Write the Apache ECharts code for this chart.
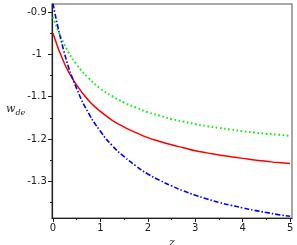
<!DOCTYPE html>
<html><head><meta charset="utf-8">
<script src="https://cdn.jsdelivr.net/npm/echarts@6/dist/echarts.min.js"></script>
<style>html,body{margin:0;padding:0;background:#fff}#c{width:297px;height:245px}</style>
</head><body><div id="c"></div>
<script>
const zValues = [0,0.25,0.5,0.75,1,1.25,1.5,1.75,2,2.25,2.5,2.75,3,3.25,3.5,3.75,4,4.25,4.5,4.75,5];
const redW   = [-0.950,-1.024,-1.073,-1.109,-1.135,-1.156,-1.172,-1.185,-1.197,-1.206,-1.214,-1.221,-1.228,-1.233,-1.238,-1.242,-1.246,-1.250,-1.253,-1.256,-1.258];
const greenW = [-0.912,-0.979,-1.024,-1.056,-1.081,-1.099,-1.114,-1.126,-1.137,-1.145,-1.153,-1.159,-1.165,-1.170,-1.174,-1.178,-1.182,-1.185,-1.188,-1.190,-1.193];
const blueW  = [-0.880,-1.001,-1.081,-1.139,-1.182,-1.216,-1.242,-1.264,-1.283,-1.298,-1.311,-1.323,-1.333,-1.342,-1.350,-1.357,-1.363,-1.369,-1.374,-1.379,-1.383];
const xTicks = [0,1,2,3,4,5];
const xMinorTicks = [0.5,1.5,2.5,3.5,4.5];
const yTicks = [-0.9,-1,-1.1,-1.2,-1.3];
const yMinorTicks = [-0.95,-1.05,-1.15,-1.25,-1.35];

const pairs = arr => zValues.map((z,i)=>[z,arr[i]]);
const axisColor = '#222';
const font = 'DejaVu Sans';
const xr = {min:-0.021, max:5.04};
const yr = {min:-1.387, max:-0.881};

const chart = echarts.init(document.getElementById('c'), null, {renderer:'canvas'});
chart.setOption({
  animation:false,
  backgroundColor:'#fff',
  grid:{left:52, right:5, top:4, bottom:27, containLabel:false, outerBoundsMode:'none',
        show:true, borderColor:'#8a8a8a', borderWidth:1.5},
  xAxis:[{
    type:'value', min:xr.min, max:xr.max, position:'bottom',
    axisLine:{show:true, onZero:false, lineStyle:{color:axisColor, width:1.2}},
    axisTick:{show:true, length:4, customValues:xTicks, lineStyle:{color:axisColor}},
    axisLabel:{customValues:xTicks, color:axisColor, fontFamily:font, fontSize:10, margin:5},
    splitLine:{show:false},
    name:'z', nameLocation:'middle', nameGap:8,
    nameTextStyle:{fontFamily:'DejaVu Serif', fontStyle:'italic', fontSize:11, color:axisColor}
  },{
    type:'value', min:xr.min, max:xr.max, position:'bottom', offset:0,
    axisLine:{show:false, onZero:false},
    axisTick:{show:true, length:2, customValues:xMinorTicks, lineStyle:{color:axisColor}},
    axisLabel:{show:false}, splitLine:{show:false}
  }],
  yAxis:[{
    type:'value', min:yr.min, max:yr.max, position:'left',
    axisLine:{show:true, onZero:false, lineStyle:{color:axisColor, width:1.2}},
    axisTick:{show:true, length:4, customValues:yTicks, lineStyle:{color:axisColor}},
    axisLabel:{customValues:yTicks, color:axisColor, fontFamily:font, fontSize:10, margin:15, align:'center'},
    splitLine:{show:false}
  },{
    type:'value', min:yr.min, max:yr.max, position:'left', offset:0,
    axisLine:{show:false, onZero:false},
    axisTick:{show:true, length:2, customValues:yMinorTicks, lineStyle:{color:axisColor}},
    axisLabel:{show:false}, splitLine:{show:false}
  }],
  graphic:[{
    type:'text', left:6, top:104,
    style:{
      text:'{w|w}{d|de}',
      rich:{
        w:{fontFamily:'DejaVu Serif', fontStyle:'italic', fontSize:11, fill:axisColor},
        d:{fontFamily:'DejaVu Serif', fontStyle:'italic', fontSize:8, fill:axisColor, padding:[6,0,0,0]}
      }
    }
  }],
  series:[
    {type:'line', data:pairs(greenW), smooth:0.5, showSymbol:false, clip:true,
     lineStyle:{color:'#11ee11', width:2, type:[1.6,2.6]}},
    {type:'line', data:pairs(redW), smooth:0.5, showSymbol:false, clip:true,
     lineStyle:{color:'#ff0000', width:1.5}},
    {type:'line', data:pairs(blueW), smooth:0.5, showSymbol:false, clip:true,
     lineStyle:{color:'#0000ff', width:1.6, type:[5,2,1.5,2]}}
  ]
});
</script></body></html>
